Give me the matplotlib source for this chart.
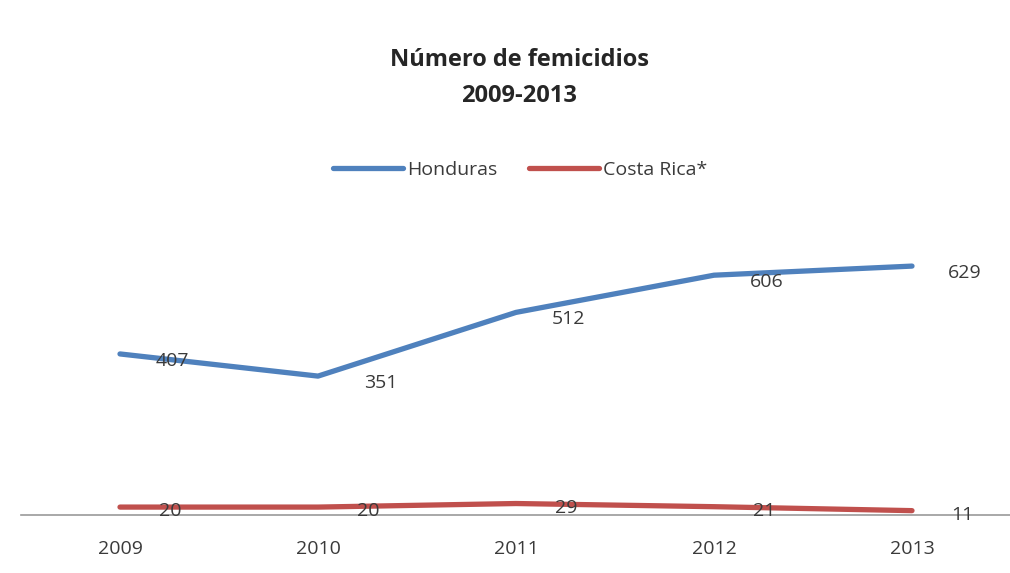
import matplotlib.pyplot as plt

years = ["2009", "2010", "2011", "2012", "2013"]
honduras = [407, 351, 512, 606, 629]
costa_rica = [20, 20, 29, 21, 11]

BLUE = "#4F81BD"
RED = "#C0504D"
FONT = "Open Sans"

plt.rcParams["font.family"] = [FONT, "DejaVu Sans"]

fig = plt.figure(figsize=(10.10, 5.73), dpi=100)
ax = fig.add_axes([21 / 1010, 58 / 573, 990 / 1010, 277 / 573])

x = list(range(len(years)))
ax.plot(x, honduras, color=BLUE, lw=3.8, solid_capstyle="round", label="Honduras")
ax.plot(x, costa_rica, color=RED, lw=3.8, solid_capstyle="round", label="Costa Rica*")

for xi, v in zip(x, honduras):
    dx = 45 if v == 351 else 38
    ax.annotate(str(v), (xi, v), xytext=(dx, -5), textcoords="offset points",
                ha="center", va="center", fontsize=14, color="#3a3a3a")
for xi, v in zip(x, costa_rica):
    ax.annotate(str(v), (xi, v), xytext=(36, -3), textcoords="offset points",
                ha="center", va="center", fontsize=14, color="#3a3a3a")

ax.set_xlim(-0.5, 4.5)
ax.set_ylim(0, 700)
ax.set_xticks(x)
ax.set_xticklabels(years, fontsize=14, color="#3a3a3a")
ax.tick_params(axis="x", length=0, pad=18)
ax.set_yticks([])
for side in ["left", "right", "top"]:
    ax.spines[side].set_visible(False)
ax.spines["bottom"].set_color("#9a9a9a")
ax.spines["bottom"].set_linewidth(1.2)

fig.text(0.514, 1 - 60 / 573, "Número de femicidios", ha="center", va="center",
         fontsize=17, fontweight="bold", color="#262626")
fig.text(0.514, 1 - 96 / 573, "2009-2013", ha="center", va="center",
         fontsize=17, fontweight="bold", color="#262626")

leg = fig.legend(loc="center", bbox_to_anchor=(0.515, 1 - 170 / 573), ncol=2,
                 frameon=False, fontsize=14, handlelength=3.6, handletextpad=0.2,
                 columnspacing=1.6)
for t in leg.get_texts():
    t.set_color("#3a3a3a")

fig.savefig("out.png", dpi=100, facecolor="white")
